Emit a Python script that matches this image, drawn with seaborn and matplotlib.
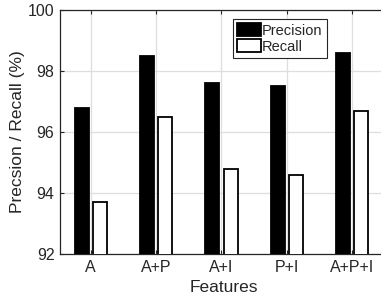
import pandas as pd
import numpy as np
import matplotlib
matplotlib.use('Agg')
import matplotlib.pyplot as plt
import seaborn as sns

# datos
features = ['A', 'A+P', 'A+I', 'P+I', 'A+P+I']
precision = [96.8, 98.5, 97.6, 97.5, 98.6]
recall = [93.7, 96.5, 94.8, 94.6, 96.7]

df = pd.DataFrame({
    'Features': features * 2,
    'valor': precision + recall,
    'metrica': ['Precision'] * len(features) + ['Recall'] * len(features),
})

sns.set_style('ticks')
plt.rcParams['font.family'] = ['Liberation Sans', 'DejaVu Sans']

fig = plt.figure(figsize=(3.81, 3.01), dpi=100)
ax = fig.add_axes([0.1575, 0.156, 0.858, 0.811])

sns.barplot(data=df, x='Features', y='valor', hue='metrica',
            palette={'Precision': 'black', 'Recall': 'white'},
            edgecolor='black', linewidth=1.3, width=0.56, gap=0.24,
            ax=ax, zorder=3)

ax.set_ylim(92, 100)
ax.set_xlim(-0.47, 4.53)
ax.set_yticks([92, 94, 96, 98, 100])
ax.grid(True, color='#dedede', linewidth=0.9, zorder=0)
ax.set_axisbelow(True)

ax.tick_params(direction='in', top=True, right=True, length=3, width=0.8,
               labelsize=11.5, colors='#262626', pad=4)
for s in ax.spines.values():
    s.set_linewidth(0.9)
    s.set_color('#262626')

ax.set_xlabel('Features', fontsize=12.5, color='#262626', labelpad=4)
ax.set_ylabel('Precsion / Recall (%)', fontsize=12.5, color='#262626', labelpad=2)

leg = ax.legend(loc='upper left', bbox_to_anchor=(0.529, 0.963), borderaxespad=0,
                fontsize=10.5, fancybox=False, framealpha=1, edgecolor='#262626',
                handlelength=1.6, handleheight=1.0, handletextpad=0.1,
                labelspacing=0.1, borderpad=0.3)
leg.get_frame().set_linewidth(0.8)

plt.savefig('out.png', dpi=100)
